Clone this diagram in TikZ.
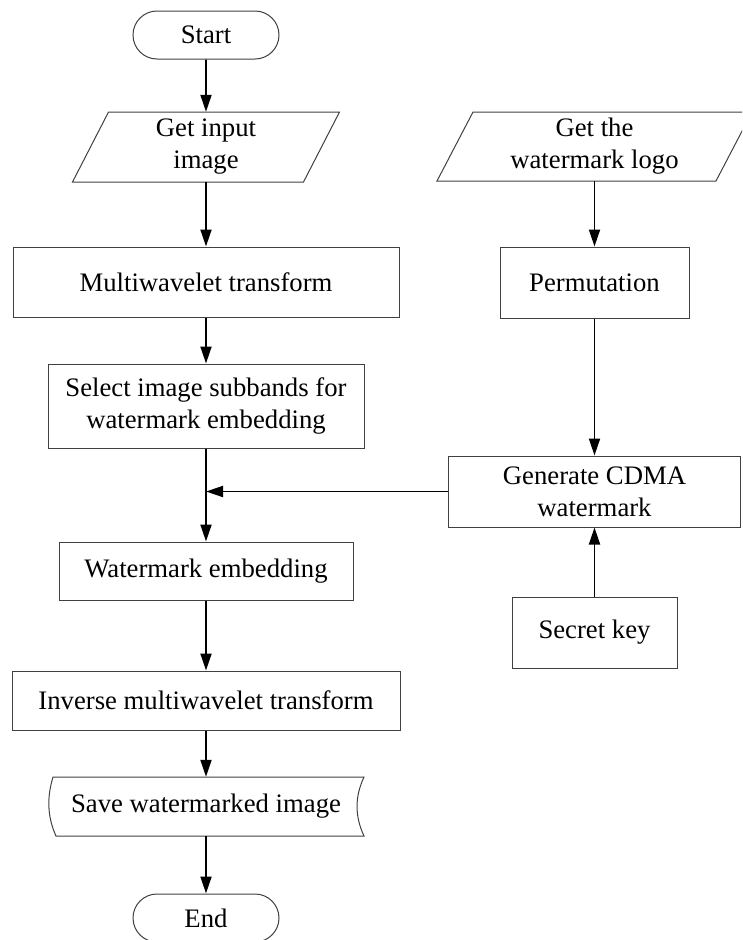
\documentclass[tikz,border=0pt]{standalone}
\usepackage{fontspec}
\setmainfont{Liberation Serif}
\usetikzlibrary{arrows.meta,shapes.misc}

\tikzset{
  base/.style={inner sep=0pt, align=center, font=\fontsize{26.7}{32}\selectfont},
  procbox/.style={base, draw=black!75, line width=1pt, rectangle},
  term/.style={base, draw=black!75, line width=1pt, rounded rectangle,
    minimum width=146pt, minimum height=48pt},
  plain/.style={base, rectangle},
  outline/.style={draw=black!75, line width=1pt},
  arr/.style={draw=black, line width=1.9pt, -{Triangle[length=17pt,width=11pt]}},
}

\begin{document}
\begin{tikzpicture}[x=1pt, y=-1pt]
  \clip (0,0) rectangle (742,940);

  % terminals
  \node[term] (start) at (206,35) {Start};
  \node[term] (end) at (206,918) {End};

  % input / output parallelograms (text nodes, outlines drawn below)
  \node[plain, minimum width=231pt, minimum height=70pt] (in) at (206,147) {Get input\\image};
  \node[plain, minimum width=279pt, minimum height=69pt] (logo) at (594.5,146.5) {Get the\\watermark logo};
  \draw[outline] (108.5,112) -- (339.5,112) -- (303.5,182) -- (72.5,182) -- cycle;
  \draw[outline] (473,112) -- (752,112) -- (716,181) -- (437,181) -- cycle;

  % process boxes, left column
  \node[procbox, minimum width=386pt, minimum height=70pt] (mwt) at (206,282) {Multiwavelet transform};
  \node[procbox, minimum width=316pt, minimum height=84pt] (sel) at (206,406) {Select image subbands for\\watermark embedding};
  \node[procbox, minimum width=294pt, minimum height=58pt] (emb) at (206,571) {Watermark embedding};
  \node[procbox, minimum width=388pt, minimum height=59pt] (inv) at (206,700.5) {Inverse multiwavelet transform};

  % stored-data output
  \node[plain, minimum width=311pt, minimum height=59pt] (save) at (206,806.5) {Save watermarked image};
  \draw[outline] (53,777) -- (364,777)
    .. controls (354.7,797) and (354.7,816) .. (364,836)
    -- (56,836)
    .. controls (47,816) and (47,797) .. (53,777) -- cycle;

  % process boxes, right column
  \node[procbox, minimum width=189pt, minimum height=71pt] (perm) at (594.5,282.5) {Permutation};
  \node[procbox, minimum width=292pt, minimum height=71pt] (gen) at (594.5,491.5) {Generate CDMA\\watermark};
  \node[procbox, minimum width=165pt, minimum height=71pt] (key) at (594.5,632.5) {Secret key};

  % junction where the watermark joins the main flow
  \coordinate (join) at (206,491.5);

  % connectors
  \draw[arr] (start) -- (in);
  \draw[arr] (in) -- (mwt);
  \draw[arr] (mwt) -- (sel);
  \draw[arr] (sel.south) -- (emb.north);
  \draw[arr] (gen.west) -- (join);
  \draw[arr] (emb) -- (inv);
  \draw[arr] (inv) -- (save);
  \draw[arr] (save) -- (end);
  \draw[arr] (logo.south -| perm.north) -- (perm.north);
  \draw[arr] (perm.south) -- (perm.south |- gen.north);
  \draw[arr] (key.north) -- (key.north |- gen.south);
\end{tikzpicture}
\end{document}
